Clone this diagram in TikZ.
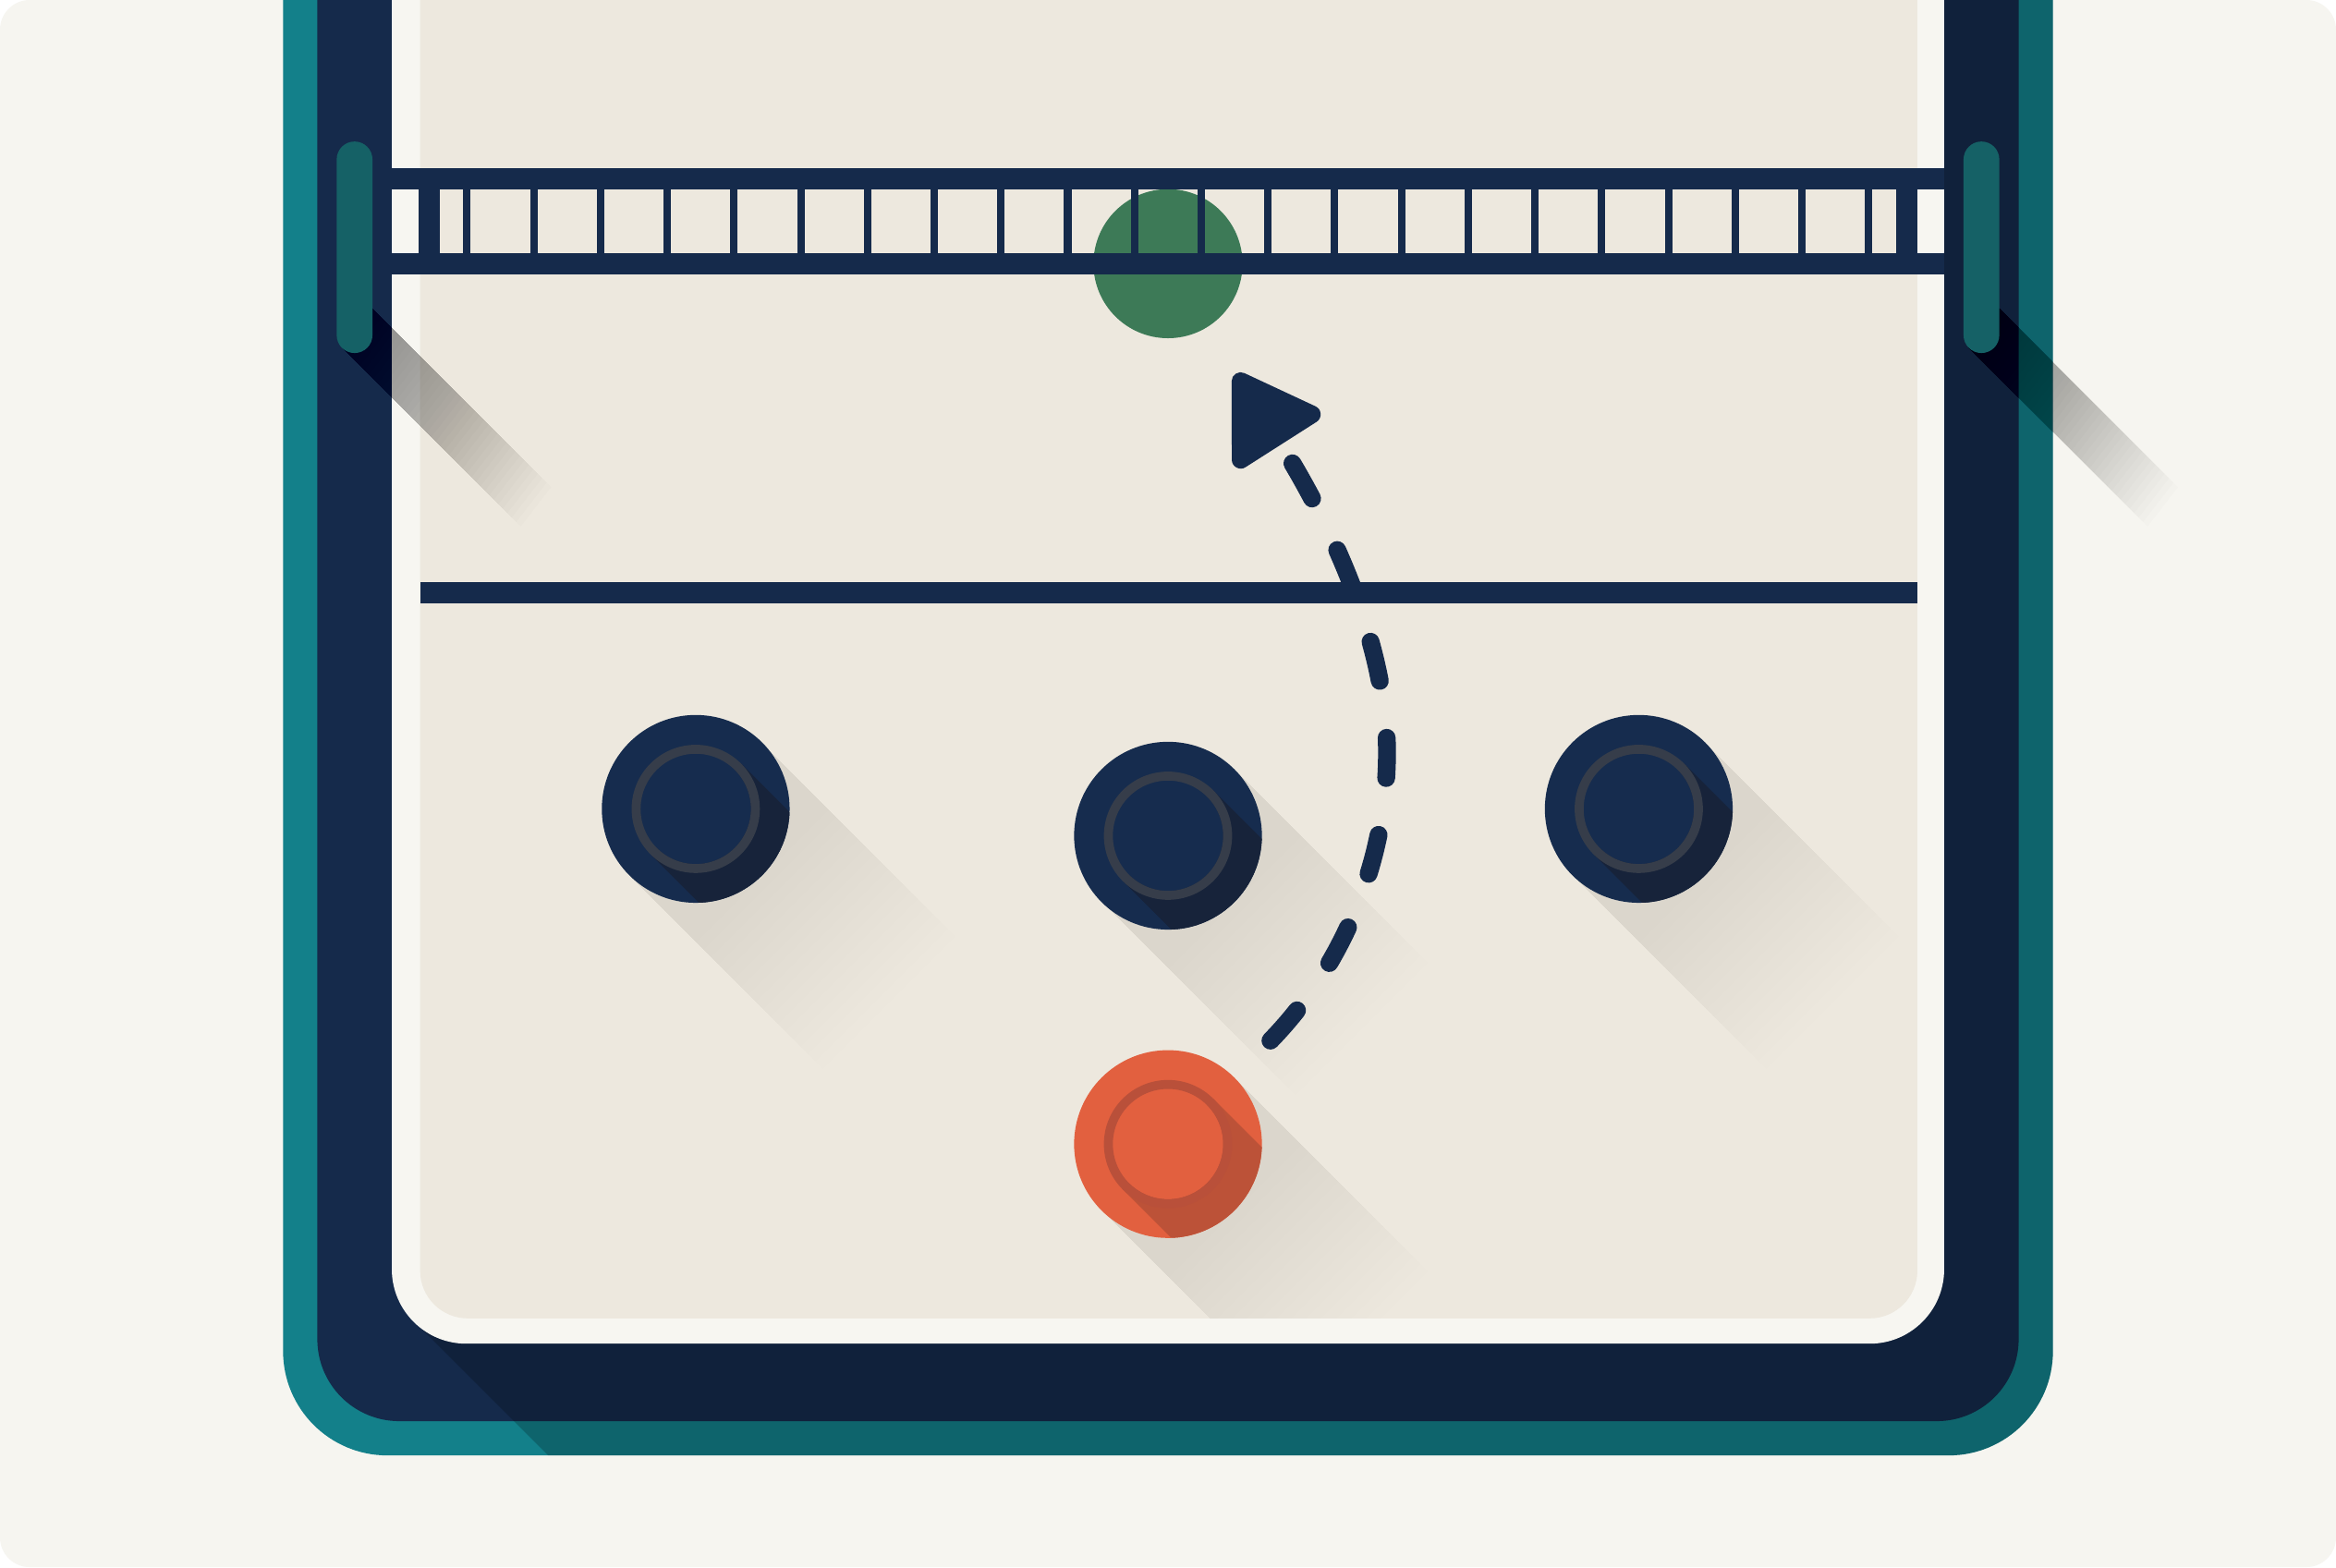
\documentclass[tikz,border=0pt]{standalone}
\usetikzlibrary{arrows.meta}

\definecolor{paper}{HTML}{F6F5F0}
\definecolor{rimteal}{HTML}{13808A}
\definecolor{navy}{HTML}{152A4B}
\definecolor{courtwhite}{HTML}{F7F6F1}
\definecolor{courtcream}{HTML}{EDE8DE}
\definecolor{padteal}{HTML}{156166}
\definecolor{ballgreen}{HTML}{3D7A57}
\definecolor{defnavy}{HTML}{162C4E}
\definecolor{defrim}{HTML}{363D4A}
\definecolor{defdim}{HTML}{17233A}
\definecolor{atkred}{HTML}{E2603F}
\definecolor{atkrim}{HTML}{B9503A}
\definecolor{atkdim}{HTML}{BC5238}

\begin{document}
\begin{tikzpicture}[x=0.01cm, y=-0.01cm,
        player/.style={circle, minimum size=12.6mm, inner sep=0pt},
        ballnode/.style={circle, fill=ballgreen, minimum size=10mm, inner sep=0pt},
        castshadow/.style={fill=black, opacity=#1},
        netbar/.style={fill=navy},
        passline/.style={navy, line width=1.2mm, line cap=round, dash pattern=on 2.7mm off 3.85mm, -{Triangle[length=6.2mm,width=7.5mm,round]}}
    ]

    \useasboundingbox (0,0) rectangle (1568,1052);
    \fill[white] (0,0) rectangle (1568,1052);
    \fill[paper, rounded corners=2mm] (0,0) rectangle (1568,1052);

    % frame and the shadow of the court on it
    \fill[rimteal, rounded corners=7mm] (190,-100) rectangle (1378,977);
    \fill[navy, rounded corners=5.5mm] (213,-100) rectangle (1355,954);
    \begin{scope}
        \clip[rounded corners=7mm] (190,-100) rectangle (1378,977);
        \fill[castshadow=.21] (278,887) -- ++(400,400) -- (1800,1287) -- (1800,-100) -- (1290,-100) -- (1290,887) -- cycle;
    \end{scope}

    % court
    \fill[courtwhite, rounded corners=5mm] (263,-100) rectangle (1305,902);
    \fill[courtcream, rounded corners=3.2mm] (282,-100) rectangle (1287,885);
    \fill[netbar] (282,391) rectangle (1287,405);

    \begin{scope}
        \clip[rounded corners=3.2mm] (282,-100) rectangle (1287,885);
        \foreach \px/\py in {467/543, 784/561, 1100/543, 784/768}
            \foreach \l in {45,50,...,130}
                \fill[castshadow=.0055, shift={(\px,\py)}] (-44.5,44.5) -- ++(\l,\l) -- ++(89,-89) -- (44.5,-44.5) -- cycle;
    \end{scope}

    \node[ballnode] (ball) at (784,177) {};

    % net
    \fill[netbar] (263,113) rectangle (1305,127);
    \fill[netbar] (263,170) rectangle (1305,184);
    \fill[netbar] (281,127) rectangle (295,170);
    \fill[netbar] (1273,127) rectangle (1287,170);
    \foreach \k in {0,...,21}
        \fill[netbar] (311+44.8*\k,127) rectangle (316+44.8*\k,170);

    % posts
    \foreach \cx in {238,1330} {
        \foreach \l in {3,6,...,120}
            \fill[castshadow=.01, shift={(\cx,225)}] (-8.5,8.5) -- (12,-18) -- ++(\l,\l) -- ++(-20.5,26.5) -- cycle;
        \fill[padteal, rounded corners=1.2mm] (\cx-12,95) rectangle (\cx+12,237);
    }

    % players
    \foreach \nm/\px/\py/\body/\rim/\dim in {left/467/543/defnavy/defrim/defdim, mid/784/561/defnavy/defrim/defdim, right/1100/543/defnavy/defrim/defdim, carrier/784/768/atkred/atkrim/atkdim} {
        \node[player, fill=\body] (\nm) at (\px,\py) {};
        \begin{scope}
            \clip (\nm) circle[radius=6.3mm];
            \fill[\dim, shift={(\px,\py)}] (-30.4,30.4) -- (119.6,180.4) -- (180.4,119.6) -- (30.4,-30.4) -- cycle;
        \end{scope}
        \fill[\body] (\nm) circle[radius=3.7mm];
        \draw[\rim, line width=0.6mm] (\nm) circle[radius=4mm];
    }

    \draw[passline, shorten <=3.4mm, shorten >=3.6mm] (carrier.45) .. controls (900,650) and (931,580) .. (931,505) .. controls (931,420) and (880,330) .. (ball.-59);

\end{tikzpicture}
\end{document}
